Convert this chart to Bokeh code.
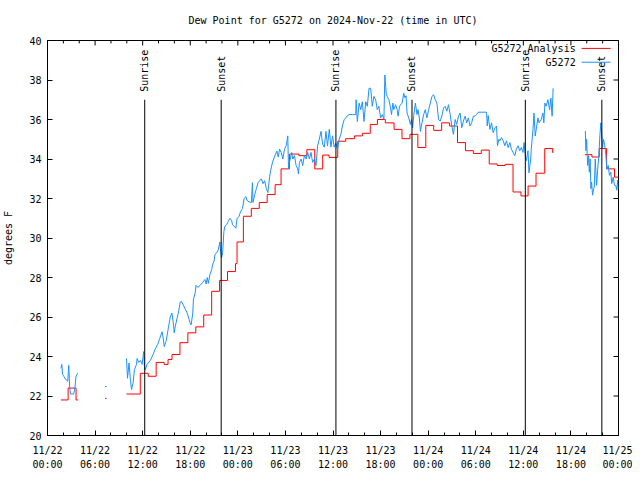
import math
from bokeh.plotting import figure
from bokeh.models import Range1d, FixedTicker, LinearAxis
from bokeh.core.properties import value
from bokeh.embed import file_html
from bokeh.resources import INLINE

FONT = "DejaVu Sans Mono"
NAN = float("nan")

# ---------------- data ----------------
title_text = "Dew Point for G5272 on 2024-Nov-22 (time in UTC)"
y_label = "degrees F"
series_names = ["G5272 Analysis", "G5272"]

tick_hours = [0, 6, 12, 18, 24, 30, 36, 42, 48, 54, 60, 66, 72]
tick_labels = ["11/22\n00:00", "11/22\n06:00", "11/22\n12:00", "11/22\n18:00",
               "11/23\n00:00", "11/23\n06:00", "11/23\n12:00", "11/23\n18:00",
               "11/24\n00:00", "11/24\n06:00", "11/24\n12:00", "11/24\n18:00",
               "11/25\n00:00"]
minor_hours = list(range(0, 73, 2))
y_ticks = [20, 22, 24, 26, 28, 30, 32, 34, 36, 38, 40]

sun_hours = [12.26, 21.9, 36.37, 45.96, 60.25, 69.9]
sun_names = ["Sunrise", "Sunset", "Sunrise", "Sunset", "Sunrise", "Sunset"]

# analysis (step: value holds from this hour to the next; None = gap)
ana_hours = [1.7, 2.6, 3.6, 3.85, 7.25, 7.45, 9.96, 11.7, 12.7, 13.7, 14.7, 15.2,
             15.7, 16.7, 17.7, 18.7, 19.7, 20.7, 21.7, 22.7, 23.7, 23.9, 24.7,
             25.7, 26.7, 27.7, 28.7, 29.45, 30.5, 31.7, 32.7, 33.7, 34.7, 35.5,
             36.6, 37.6, 38.7, 39.7, 40.7, 41.6, 42.6, 43.7, 44.7, 45.7, 46.7,
             47.7, 48.7, 49.7, 50.7, 51.7, 52.7, 53.7, 54.7, 55.7, 56.7, 57.7,
             58.7, 59.7, 60.6, 61.6, 62.7, 63.7, 63.8, 67.77, 68.65, 69.57,
             70.5, 71.5, 72.0]
ana_dewpt = [21.8, 22.4, 21.8, None, 21.88, None, 22.1, 23.15, 23.0, 23.7, 23.6,
             23.85, 24.1, 24.7, 25.2, 25.5, 26.1, 27.3, 27.85, 28.3, 28.7, 29.8,
             31.1, 31.5, 31.8, 32.2, 32.7, 33.5, 34.25, 34.17, 34.47, 33.5, 34.2,
             34.08, 34.9, 35.03, 35.17, 35.3, 35.75, 36.0, 35.83, 35.5, 35.03,
             35.25, 34.58, 35.7, 35.45, 35.83, 35.67, 34.83, 34.42, 34.28, 34.45,
             33.75, 33.67, 33.73, 32.33, 32.13, 32.63, 33.28, 34.53, 34.33, None,
             34.22, 34.1, 34.53, 33.5, 33.08, None]

# station observations (None = gap)
obs_hours = [1.70, 1.80, 1.90, 2.05, 2.20, 2.40, 2.55, 2.68, 2.80, 2.90, 3.10, 3.30,
             3.45, 3.60, 3.80, None, 7.25, 7.45, None,
             9.96, 10.09, 10.28, 10.46, 10.59, 10.8, 10.96, 11.22, 11.3, 11.5, 11.72,
             11.93, 12.13, 12.22, 12.34, 12.56, 12.97, 13.31, 13.6, 13.88, 14.14,
             14.44, 14.56, 14.72, 14.97, 15.26, 15.48, 15.69, 15.89, 15.98, 16.1,
             16.32, 16.52, 16.73, 16.85, 17.14, 17.36, 17.57, 17.77, 17.98, 18.11,
             18.32, 18.4, 18.61, 18.73, 18.95, 19.24, 19.57, 19.86, 20.0, 20.15,
             20.28, 20.49, 20.7, 20.83, 21.0, 21.12, 21.33, 21.53, 21.74, 21.83,
             21.95, 22.08, 22.24, 22.37, 22.58, 22.78, 23.0, 23.21, 23.33, 23.53,
             23.75, 23.91, 24.16, 24.34, 24.59, 24.79, 25.0, 25.16, 25.41, 25.71,
             25.84, 25.91, 26.13, 26.34, 26.54, 26.75, 26.97, 27.17, 27.38, 27.59,
             27.79, 28.01, 28.13, 28.35, 28.51, 28.76, 28.92, 29.1, 29.26, 29.47,
             29.67, 29.89, 30.1, 30.3, 30.39, 30.51, 30.8, 30.93, 31.14, 31.35,
             31.55, 31.64, 31.77, 31.98, 32.18, 32.39, 32.61, 32.81, 33.02, 33.23,
             33.43, 33.65, 33.86, 34.06, 34.27, 34.49, 34.69, 34.9, 35.11, 35.31,
             35.53, 35.74, 35.94, 36.15, 36.37, 36.57, 36.78, 36.99, 37.19, 37.41,
             37.62, 37.82, 38.03, 38.45, 38.87, 38.91, 39.07, 39.29, 39.5, 39.7,
             39.91, 40.13, 40.33, 40.54, 40.75, 40.88, 40.95, 41.16, 41.38, 41.58,
             41.79, 42.0, 42.21, 42.42, 42.54, 42.71, 42.83, 43.05, 43.26, 43.38,
             43.55, 43.67, 43.89, 44.09, 44.21, 44.39, 44.71, 44.92, 45.05, 45.21,
             45.34, 45.55, 45.76, 45.89, 46.05, 46.18, 46.39, 46.59, 46.72, 46.89,
             47.02, 47.22, 47.43, 47.64, 47.84, 48.06, 48.27, 48.47, 48.68, 48.9,
             49.1, 49.31, 49.52, 49.72, 49.94, 50.15, 50.35, 50.56, 50.78, 50.98,
             51.19, 51.4, 51.6, 51.82, 52.03, 52.23, 52.44, 52.66, 52.86, 53.07,
             53.28, 53.48, 53.7, 53.91, 54.11, 54.32, 54.74, 55.16, 55.36, 55.45,
             55.57, 55.79, 55.99, 56.2, 56.42, 56.62, 56.74, 56.92, 57.04, 57.24,
             57.46, 57.67, 57.87, 58.08, 58.3, 58.5, 58.71, 58.92, 59.12, 59.34,
             59.55, 59.75, 59.96, 60.09, 60.25, 60.38, 60.59, 60.71, 60.93, 61.0,
             61.22, 61.34, 61.5, 61.63, 61.84, 61.97, 62.26, 62.47, 62.59, 62.72,
             62.88, 63.1, 63.31, 63.47, 63.63, 63.76, None,
             67.82, 67.89, 67.98, 68.11, 68.23, 68.32, 68.42, 68.52, 68.61, 68.73,
             68.86, 68.95, 69.07, 69.15, 69.24, 69.36, 69.49, 69.57, 69.65, 69.77,
             69.9, 69.99, 70.11, 70.24, 70.4, 70.53, 70.7, 70.86, 71.03, 71.15,
             71.33, 71.49, 71.65, 71.78, 71.9, 71.97]
obs_dewpt = [23.4, 23.6, 23.1, 23.0, 22.9, 22.8, 22.75, 23.55, 22.4, 22.1, 22.1, 22.1,
             22.4, 23.0, 23.15, None, 22.48, 22.48, None,
             23.9, 22.9, 23.67, 22.8, 22.33, 22.67, 23.33, 23.6, 23.9, 23.7, 23.8,
             23.6, 24.25, 23.5, 23.33, 23.6, 23.8, 24.1, 24.4, 24.6, 24.9,
             25.25, 25.0, 24.5, 24.8, 25.5, 26.0, 26.2, 25.6, 25.2, 25.5,
             25.9, 26.25, 26.75, 26.8, 26.6, 26.4, 26.25, 26.0, 25.7, 25.6,
             26.2, 26.9, 27.2, 27.6, 27.5, 27.6, 27.75, 27.9, 27.67, 28.0,
             27.7, 28.17, 28.4, 28.67, 28.83, 29.17, 29.25, 29.4, 29.8, 29.3,
             29.0, 29.25, 30.33, 30.6, 30.67, 30.83, 31.0, 30.9, 30.67, 30.6,
             30.5, 31.0, 31.1, 31.33, 31.5, 32.0, 32.1, 31.9, 31.83, 31.8,
             32.8, 31.8, 32.2, 32.5, 32.8, 32.9, 33.0, 32.75, 32.9, 32.5,
             32.3, 33.1, 33.4, 33.8, 34.0, 34.25, 34.4, 34.1, 34.5, 34.33,
             34.0, 34.5, 34.67, 35.17, 33.5, 33.83, 34.33, 34.0, 34.17, 33.67,
             33.5, 33.25, 33.83, 34.0, 33.67, 34.17, 34.0, 34.33, 34.0, 34.33,
             33.83, 34.0, 33.67, 34.67, 35.0, 35.4, 34.75, 34.6, 35.4, 34.67,
             35.5, 34.6, 35.17, 34.6, 34.8, 34.5, 35.0, 35.25, 35.67, 36.0,
             36.08, 36.2, 36.25, 36.25, 36.25, 37.0, 35.9, 36.83, 36.5, 36.9,
             35.9, 36.9, 36.67, 37.58, 37.58, 37.0, 36.67, 37.17, 37.0, 36.5,
             36.67, 36.08, 36.25, 36.0, 38.25, 37.33, 37.17, 37.0, 36.58, 36.25,
             36.83, 36.5, 36.75, 36.5, 36.17, 36.67, 36.83, 37.33, 37.1, 37.2,
             36.33, 36.08, 35.75, 36.0, 35.58, 36.2, 36.83, 36.25, 36.5, 36.08,
             35.4, 35.83, 36.25, 36.5, 36.08, 36.5, 36.83, 37.17, 37.25, 37.0,
             36.83, 36.0, 35.92, 36.17, 36.58, 36.67, 36.42, 36.75, 36.25, 35.67,
             35.25, 36.0, 35.75, 36.17, 36.33, 35.58, 35.92, 36.17, 35.83, 36.08,
             35.67, 35.83, 36.17, 36.17, 36.25, 36.37, 36.37, 36.37, 36.37, 35.67,
             36.2, 35.5, 35.83, 35.33, 35.58, 35.67, 34.67, 35.0, 34.92, 35.08,
             34.92, 34.67, 34.92, 34.58, 34.83, 34.5, 34.33, 34.17, 34.5, 34.67,
             34.42, 34.58, 34.33, 34.83, 34.17, 33.92, 34.42, 33.3, 34.0, 34.5,
             35.5, 36.33, 35.17, 35.5, 36.08, 35.83, 36.0, 36.33, 35.83, 36.83,
             36.67, 37.0, 36.5, 37.08, 36.17, 37.58, None,
             35.42, 34.42, 35.0, 33.67, 34.17, 33.33, 34.0, 32.5, 32.83, 32.17,
             32.5, 32.58, 34.0, 33.33, 32.67, 33.42, 34.0, 34.5, 35.17, 35.83,
             35.17, 34.58, 35.0, 34.75, 34.25, 33.5, 33.67, 33.17, 33.33, 32.75,
             33.08, 32.67, 32.67, 32.42, 32.92, 32.5]

# ---------------- build paths ----------------
ana_x, ana_y = [], []
for i in range(len(ana_hours) - 1):
    v = ana_dewpt[i]
    if v is None:
        ana_x.append(NAN)
        ana_y.append(NAN)
        continue
    ana_x += [ana_hours[i], ana_hours[i + 1]]
    ana_y += [v, v]

obs_x = [NAN if h is None else h for h in obs_hours]
obs_y = [NAN if v is None else v for v in obs_dewpt]

# ---------------- figure ----------------
W, H = 632, 472
BL, BR, BT, BB = 46, 14, 40, 32
X0, X1, Y0, Y1 = 0, 72, 20, 40
p = figure(width=W, height=H, x_range=Range1d(X0, X1), y_range=Range1d(Y0, Y1),
           output_backend="svg", toolbar_location=None,
           min_border_left=BL, min_border_right=BR, min_border_top=BT,
           min_border_bottom=BB)
p.xgrid.visible = False
p.ygrid.visible = False
p.outline_line_color = "black"
p.background_fill_color = "white"
p.border_fill_color = "white"

xt = FixedTicker(ticks=tick_hours, minor_ticks=minor_hours)
yt = FixedTicker(ticks=y_ticks, minor_ticks=[])
MAJ, MIN = 5, 3


def style_axis(ax):
    ax.axis_line_color = "black"
    ax.major_tick_line_color = "black"
    ax.minor_tick_line_color = "black"
    ax.major_tick_in = MAJ
    ax.major_tick_out = 0
    ax.minor_tick_in = MIN
    ax.minor_tick_out = 0
    ax.major_label_text_font = FONT
    ax.major_label_text_font_size = "10px"
    ax.major_label_text_color = "black"
    ax.axis_label_text_font = FONT
    ax.axis_label_text_font_size = "10px"
    ax.axis_label_text_font_style = "normal"
    ax.axis_label_text_color = "black"


xb = p.xaxis[0]
xb.ticker = xt
xb.major_label_overrides = dict(zip(tick_hours, tick_labels))
style_axis(xb)
xb.major_label_standoff = 9
xb.major_label_text_line_height = 1.3

yl = p.yaxis[0]
yl.ticker = yt
style_axis(yl)
yl.major_label_standoff = 6
yl.axis_label = y_label
yl.axis_label_standoff = 12

# top axis only carries the title (no ticks, no tick labels)
xtop = LinearAxis(ticker=FixedTicker(ticks=[], minor_ticks=[]))
style_axis(xtop)
xtop.axis_label = title_text
xtop.axis_label_standoff = 15
p.add_layout(xtop, "above")

# mirrored tick marks on the top and right border
px_y = (Y1 - Y0) / (H - BT - BB)
px_x = (X1 - X0) / (W - BL - BR)
minor_only = [h for h in minor_hours if h not in tick_hours]
p.segment(x0=tick_hours, y0=[Y1] * len(tick_hours), x1=tick_hours,
          y1=[Y1 - MAJ * px_y] * len(tick_hours), line_color="black", line_width=1)
p.segment(x0=minor_only, y0=[Y1] * len(minor_only), x1=minor_only,
          y1=[Y1 - MIN * px_y] * len(minor_only), line_color="black", line_width=1)
p.segment(x0=[X1] * len(y_ticks), y0=y_ticks, x1=[X1 - MAJ * px_x] * len(y_ticks),
          y1=y_ticks, line_color="black", line_width=1)

# data lines
p.line(ana_x, ana_y, line_color="#ff0000", line_width=1)
p.line(obs_x, obs_y, line_color="#1e90ff", line_width=1)

# sunrise / sunset markers
p.segment(x0=sun_hours, y0=[20] * len(sun_hours), x1=sun_hours, y1=[37] * len(sun_hours),
          line_color="black", line_width=1)
p.text(x=sun_hours, y=[37.4] * len(sun_hours), text=sun_names, angle=math.pi / 2,
       text_align="left", text_baseline="middle", text_font=value(FONT),
       text_font_size="10px", text_color="black")

# legend (text then sample line, gnuplot style)
leg_y = [39.6, 38.9]
leg_colors = ["#ff0000", "#1e90ff"]
p.text(x=[66.6, 66.6], y=leg_y, text=series_names, text_align="right",
       text_baseline="middle", text_font=value(FONT), text_font_size="10px",
       text_color="black")
p.segment(x0=[67.35, 67.35], y0=leg_y, x1=[71.0, 71.0], y1=leg_y,
          line_color=leg_colors, line_width=1)

open("out.html", "w").write(file_html(p, INLINE))
